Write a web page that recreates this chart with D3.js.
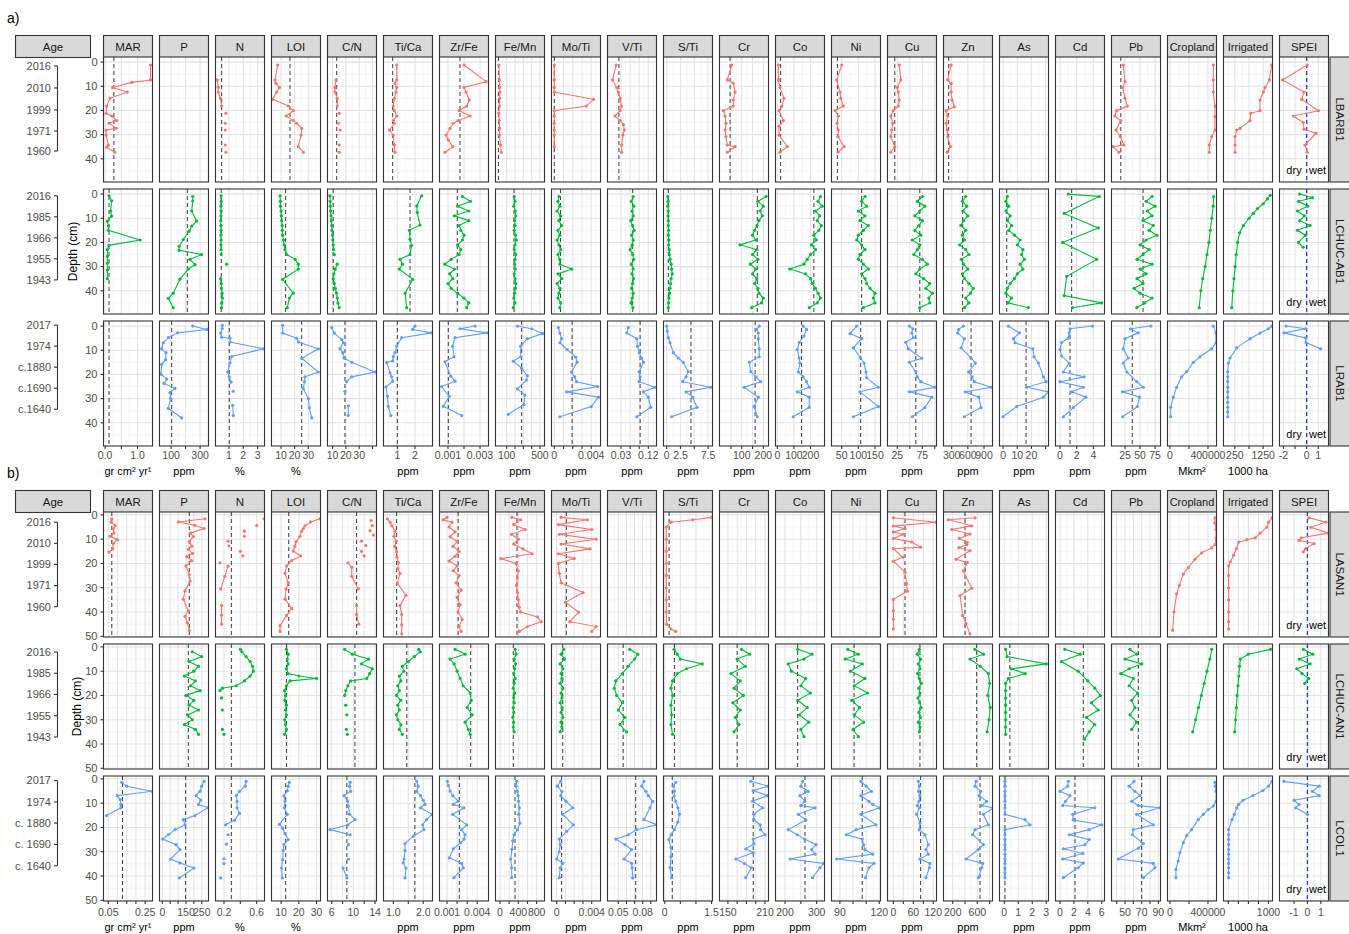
<!DOCTYPE html>
<html>
<head>
<meta charset="utf-8">
<script src="https://cdn.jsdelivr.net/npm/d3@7"></script>
<style>
  body { margin: 0; background: #fff; }
  text { font-family: "Liberation Sans", Arial, sans-serif; }
</style>
</head>
<body>
<script>
// ---- columns shared by both blocks ----
var colNames = ["MAR","P","N","LOI","C/N","Ti/Ca","Zr/Fe","Fe/Mn","Mo/Ti","V/Ti","S/Ti","Cr","Co","Ni","Cu","Zn","As","Cd","Pb","Cropland","Irrigated","SPEI"];
var units = ["gr cm² yr¹","ppm","%","%","","ppm","ppm","ppm","ppm","ppm","ppm","ppm","ppm","ppm","ppm","ppm","ppm","ppm","ppm","Mkm²","1000 ha",""];
var rowColors = ["#F8766D","#00BA38","#619CFF"];

// ---- block a) x scales ----
var domainA = [[-0.05,1.46],[20,358],[0.06,3.48],[3,39],[6.2,43],[0.22,2.99],[0.00047,0.00353],[-35,555],[-0.0003,0.005],[-0.0146,0.147],[-0.58,8.3],[-3,224],[-11,284],[19.4,166.5],[5.4,103.4],[148,1058],[-2.5,32],[-0.54,5.34],[2.5,84],[-26000,490000],[-150,1580],[-2.34,1.88]];
var breaksA = [[0,0.5,1],[100,200,300],[1,2,3],[10,20,30],[10,20,30,40],[1,2],[0.001,0.002,0.003],[100,200,300,400,500],[0,0.001,0.002,0.003,0.004],[0.03,0.06,0.09,0.12],[0,2.5,5,7.5],[50,100,150,200],[0,100,200],[50,100,150],[25,50,75,100],[300,600,900],[0,10,20,30],[0,2,4],[25,50,75],[0,200000,400000],[250,750,1250],[-2,-1,0,1]];
var labelsA = [["0.0","1.0"],["100","300"],["1","2","3"],["10","20","30"],["10","20","30"],["1","2"],["0.001","0.003"],["100","500"],["0","0.004"],["0.03","0.12"],["0","2.5","7.5"],["100","200"],["0","100","200"],["50","100","150"],["25","75"],["300","600","900"],["0","10","20"],["0","2","4"],["25","50","75"],["0","400000"],["250","1250"],["-2","0","1"]];

// ---- block b) x scales ----
var domainB = [[0.024,0.29],[-18,293],[0.096,0.696],[4.6,32.2],[5.22,14.28],[0.67,2.31],[0.00025,0.00512],[-98,971],[-0.00059,0.005],[0.0367,0.097],[-0.04,1.53],[136.4,215.7],[170,324.6],[83.6,120.9],[-17.5,129.6],[50,847],[-0.34,3.16],[-0.65,6.4],[33.8,92.6],[-26000,490000],[-120,1100],[-2.08,1.57]];
var breaksB = [[0.05,0.1,0.15,0.2,0.25],[0,50,100,150,200,250],[0.2,0.4,0.6],[10,20,30],[6,8,10,12,14],[1,1.5,2],[0.001,0.002,0.003,0.004],[0,200,400,600,800],[0,0.001,0.002,0.003,0.004],[0.05,0.06,0.07,0.08,0.09],[0,0.5,1,1.5],[150,165,180,195,210],[200,250,300],[90,100,110,120],[0,30,60,90,120],[200,400,600,800],[0,1,2,3],[0,2,4,6],[40,50,60,70,80,90],[0,200000,400000],[0,250,500,750,1000],[-1,0,1]];
var labelsB = [["0.05","0.25"],["0","150","250"],["0.2","0.6"],["10","20","30"],["6","10","14"],["1.0","2.0"],["0.001","0.004"],["0","400","800"],["0","0.004"],["0.05","0.08"],["0","1.5"],["150","210"],["200","300"],["90","120"],["0","60","120"],["200","600"],["0","1","2","3"],["0","2","4","6"],["50","70","90"],["0","400000"],["1000"],["-1","0","1"]];

// ---- age axes ----
var agesA1 = ["2016","2010","1999","1971","1960"], ageDepthA1 = [1.6,10.7,19.8,28.5,36.8];
var agesA2 = ["2016","1985","1966","1955","1943"], ageDepthA2 = [0.7,9.4,18.1,26.8,35.5];
var agesA3 = ["2017","1974","c.1880","c.1690","c.1640"], ageDepthA3 = [-0.4,8.3,17,25.7,34.4];
var agesB1 = ["2016","2010","1999","1971","1960"], ageDepthB1 = [3.0,11.7,20.4,29.1,37.8];
var agesB2 = ["2016","1985","1966","1955","1943"], ageDepthB2 = [2.1,10.85,19.6,28.35,37.1];
var agesB3 = ["2017","1974","c. 1880","c. 1690","c. 1640"], ageDepthB3 = [0.7,9.5,18.2,27,35.8];

// ---- core data: [depth cm, value], null = gap ----
var lbarb1 = {
  "MAR": [[1.2,1.40],[7.4,1.40],[8.4,0.82],[10.5,0.23],[12.4,0.68],[15,0.15],[18.2,0.05],[21.2,0.03],[22.3,0.2],[24.2,0.36],[25.3,0.12],[27.4,0.34],[28.1,0.03],[30.2,0.03],[34.3,0.1],[35.2,0.05],[37.3,0.3]],
  "N": [[7.4,0.18],[10.5,0.25],[12.4,0.25],[15,0.41],[18.2,0.49],null,[21.2,0.79],null,[25.3,0.74],null,[28.1,0.74],null,[34.3,0.74],null,[37.3,0.79]],
  "LOI": [[1.2,7.6],[7.4,5.6],[8.8,6.3],[10.5,8.8],[12.4,6.8],[15.4,3.9],[18.2,15.4],[20.1,19.0],[22.3,13.7],[24.2,19],[25.3,21.5],[27.4,25.2],[30.2,24.7],[35,22.7],[37.3,26.4]],
  "C/N": [[7.4,12.6],[10.5,11.8],[12.4,11.8],[15,13.5],[18.2,13.5],null,[21.2,15],null,[25.3,14.3],null,[28.1,15.6],null,[34.3,15],null,[37.3,15]],
  "Ti/Ca": [[1.2,0.97],[7.4,0.97],[8.8,0.87],[10.5,0.97],[12.4,0.92],[15,0.83],[18.2,0.77],[20.1,0.83],[22.3,0.97],[24.2,0.77],[25.3,0.83],[28.1,0.55],[30.2,0.77],[34.3,0.83],[37.3,0.87]],
  "Zr/Fe": [[1.2,0.0020],[8.1,0.00338],[10.5,0.0020],[12.4,0.00213],[15.7,0.00233],[18.2,0.00217],[20.1,0.0017],[22.3,0.00238],[24.2,0.00164],[25.3,0.00133],[27.4,0.00113],[30.2,0.00088],[32.2,0.00102],[35,0.0013],[37.3,0.00081]],
  "Fe/Mn": [[1.2,6],[7.4,12],[10.5,15],[12.4,18],[15,15],[18.2,12],[21.2,5],[24.2,10],[27.4,15],[30.2,12],[34.3,27],[37.3,35]],
  "Mo/Ti": [[1.2,0],[7.4,0],[10.5,0],[12.4,0],[15.4,0.00425],[18.2,0.00347],[20.1,0],[22.3,0],[25.3,0],[28.1,0],[30.2,0],[35,0]],
  "V/Ti": [[1.2,0.014],[7.4,0.002],[10.5,0.016],[12.4,0.021],[15,0.027],[18.2,0.032],[20.1,0.027],[22.3,0.010],[24.2,0.027],[25.9,0.038],[28.1,0.041],[30.2,0.036],[34.3,0.032],[37.3,0.032]],
  "Cr": [[1.2,54],[7.4,33],[8.8,61],[12.4,69],[15.7,61],[18.2,61],[20.1,15],[22.3,23],[25.3,27],[28.1,23],[30.8,27],[34.3,33],[35,69],[37.3,33]],
  "Co": [[1.2,6],[7.4,6],[10.5,16],[15,40],[18.2,28],[20.1,10],[24.2,36],[26.5,10],[30.2,10],[35,60],[37.3,16]],
  "Ni": [[1.2,50],[7.4,35],[12.4,45],[15,47],[18.2,55],[20.1,30],[22.3,40],[25.3,36],[28.1,40],[30.8,39],[35,57],[37.3,39]],
  "Cu": [[1.2,29],[7.4,32],[10.5,25],[12.4,27],[15.7,29],[18.2,27],[20.1,17],[22.3,12],[25.3,16],[28.1,14],[30.8,12],[35,20],[37.3,12]],
  "Zn": [[1.2,289],[7.4,226],[8.8,289],[12.4,289],[15.7,307],[18.5,350],[20.1,196],[22.3,226],[25.3,196],[28.1,215],[30.8,226],[35,276],[37.3,215]],
  "Pb": [[1.2,22],[8.1,25],[10.5,21],[15,25],[18.2,29],[20.1,11],[22.3,8],[24.2,18],[28.1,10],[30.8,17],[34.3,23],[35,5],[37.3,15]],
  "Cropland": [[1.2,456000],[7.4,456000],[12.4,456000],[18.2,474000],[22.6,474000],[28.1,474000],[30.8,439000],[34.3,414000],[37.3,414000]],
  "Irrigated": [[1.2,1553],[7.4,1469],[10.5,1317],[12.4,1257],[15.7,1140],[20.1,1140],[21.2,812],[24.2,787],[27.4,434],[28.1,318],[30.8,258],[34.3,258],[37.3,258]],
  "SPEI": [[1.2,0.05],[7.4,-2.07],[12.4,-0.23],[15.4,-0.43],[20.1,1.0],[22.3,-1.15],[25,-0.29],[27.8,-0.23],[29.4,0.8],[34.3,-0.15],[37.3,0.05]]
};
var lbarb1Ref = {"MAR":0.27,"N":0.49,"LOI":16.6,"C/N":13.1,"Ti/Ca":0.74,"Zr/Fe":0.00175,"Fe/Mn":0,"Mo/Ti":0,"V/Ti":0.023,"Cr":46,"Co":20,"Ni":37,"Cu":20,"Zn":244,"Pb":18,"SPEI":0};

var lchucab1 = {
  "MAR": [[0.7,0.12],[2.8,0.2],[7,0.17],[9.1,0.2],[11.2,0.07],[13.2,0.1],[15,0.1],[19,1.08],[21.2,0.12],[23,0.07],[25.8,0.07],[28.6,0.07],[31.4,0.07],[35,0.07]],
  "P": [[1,249],[2.9,249],[7,242],[11.2,276],[13.2,242],[15.3,226],[18.8,184],[21.6,156],[23.3,156],[25,311],[27,230],[29.2,265],[31,219],[35.2,161],[41,115],[43.1,81],[47,115]],
  "N": [[0.7,0.45],[3,0.46],[5,0.44],[7,0.45],[9,0.44],[11,0.43],[13,0.44],[15,0.45],[17,0.44],[19,0.45],[21,0.44],[23,0.45],null,[25,0.46],null,[29,0.84],null,[35,0.42],[37,0.45],[39,0.48],[41,0.52],[43,0.55],[45,0.5],[47,0.48]],
  "LOI": [[0.7,9.3],[3,9.5],[5,9.6],[7,10],[9,10.2],[11,10.5],[13,10.8],[15,11],[17,11.2],[19,11.8],[21,12.3],[23,12.9],[25,14.2],[27,20.3],[29,22.7],[31,22.7],[35.3,11.2],[41,19],[43,16.1],[47,14.6]],
  "C/N": [[0.7,8],[3,8.2],[5,8.3],[7,8.5],[9,8.8],[11,9],[13,9.3],[15,9.5],[17,10],[19,10.2],[21,10.5],[23,10.8],null,[25,11.3],null,[29,13.5],[31,12],[33,11],[35,10.5],[37,11.3],[39,12],[41,13],[43,13.5],[45,14],[47,15]],
  "Ti/Ca": [[0.7,2.38],[4.9,2.1],[7.6,2.13],[12.8,2.28],[15,1.68],[18.7,1.72],[21.2,1.81],[25,1.72],[27,1.15],[29,1.3],[31,1.11],[35.3,1.87],[41,1.44],[47,1.53]],
  "Zr/Fe": [[1,0.0019],[3,0.0024],[5,0.0016],[7,0.0023],[9,0.0014],[11,0.0023],[13,0.0017],[15,0.0018],[17,0.0020],[19,0.0019],[21,0.0016],[23,0.0018],[25,0.0017],[27,0.0012],[29,0.0008],[31,0.0014],[33,0.0011],[35,0.0013],[37,0.0010],[39,0.0012],[41,0.0016],[43,0.0020],[45,0.0023],[47,0.00217]],
  "Fe/Mn": [[1,190],[3,200],[5,185],[7,205],[9,210],[11,195],[13,200],[15,190],[17,205],[19,215],[21,200],[23,190],[25,210],[27,200],[29,195],[31,205],[33,190],[35,200],[37,210],[39,205],[41,195],[43,185],[45,200],[47,179]],
  "Mo/Ti": [[1,0.0005],[3,0.0004],[5,0.0006],[7,0.0003],[9,0.0007],[11,0.0005],[13,0.0008],[15,0.0004],[17,0.0006],[19,0.0003],[21,0.0005],[23,0.0007],[25,0.0004],[27,0.0006],[29,0.0006],[31,0.0019],[33,0.0004],[35,0.0008],[37,0.0003],[39,0.0006],[41,0.0005],[43,0.0004],[45,0.0007],[47,0.0006]],
  "V/Ti": [[1,0.07],[3,0.064],[5,0.072],[7,0.066],[9,0.07],[11,0.062],[13,0.068],[15,0.073],[17,0.065],[19,0.07],[21,0.067],[23,0.06],[25,0.068],[27,0.072],[29,0.064],[31,0.07],[33,0.066],[35,0.071],[37,0.068],[39,0.065],[41,0.07],[43,0.067],[45,0.063],[47,0.069]],
  "S/Ti": [[1,0.2],[3,0.25],[5,0.2],[7,0.3],[9,0.25],[11,0.3],[13,0.3],[15,0.35],[17,0.3],[19,0.4],[21,0.35],[23,0.45],[25,0.5],[27,0.6],[29,0.8],[31,0.9],[33,1.0],[35,0.8],[37,0.7],[39,0.6],[41,0.5],[43,0.4],[45,0.35],[47,0.3]],
  "Cr": [[1,213],[3,175],[5,200],[7,185],[9,195],[11,180],[13,170],[15,160],[17,150],[19,165],[21,92],[23,170],[25,150],[27,175],[29,140],[31,165],[33,150],[35,170],[37,160],[39,175],[41,180],[43,200],[45,192],[47,146]],
  "Co": [[1,260],[3,245],[5,270],[7,230],[9,255],[11,240],[13,265],[15,250],[17,220],[19,235],[21,205],[23,230],[25,200],[27,180],[29,160],[31,75],[33,170],[35,200],[37,210],[39,230],[41,245],[43,260],[45,240],[47,192]],
  "Ni": [[1,120],[3,110],[5,125],[7,100],[9,120],[11,105],[13,130],[15,115],[17,100],[19,95],[21,110],[23,120],[25,105],[27,100],[29,115],[31,130],[33,110],[35,120],[37,125],[39,135],[41,150],[43,145],[45,150],[47,115]],
  "Cu": [[1,75],[3,65],[5,80],[7,70],[9,60],[11,75],[13,68],[15,60],[17,72],[19,55],[21,70],[23,65],[25,58],[27,75],[29,85],[31,70],[33,62],[35,78],[37,90],[39,82],[41,95],[43,88],[45,90],[47,70]],
  "Zn": [[1,560],[3,500],[5,580],[7,510],[9,600],[11,520],[13,470],[15,560],[17,500],[19,540],[21,450],[23,560],[25,620],[27,480],[29,520],[31,600],[33,500],[35,540],[37,620],[39,700],[41,650],[43,560],[45,620],[47,536]],
  "As": [[1,3],[3,2],[5,4],[7,2],[9,5],[11,3],[13,6],[15,4],[17,8],[19,12],[21,10],[23,14],[25,13],[27,15],[29,12],[31,14],[33,10],[35,8],[37,5],[39,3],[41,2],[43,6],[45,3.5],[47,17.8]],
  "Cd": [[0,1.0],[1,4.7],[8,0.5],[14,4.6],[20,0.3],[27,4.4],[34,0.8],[42,0.5],[45,5],[47,1.5]],
  "Pb": [[1,70],[3,60],[5,75],[7,62],[9,70],[11,55],[13,72],[15,65],[17,78],[19,60],[21,50],[23,65],[25,55],[27,45],[29,70],[31,50],[33,60],[35,45],[37,55],[39,40],[41,50],[43,70],[45,58],[47,44.5]],
  "Cropland": [[1,460000],[5,455000],[10,440000],[15,425000],[20,410000],[25,390000],[30,370000],[35,345000],[40,325000],[47,308000]],
  "Irrigated": [[0.5,1500],[2,1400],[4,1250],[6,1050],[8,900],[10,750],[13,550],[16,420],[20,350],[25,300],[30,260],[35,220],[40,180],[47,141]],
  "SPEI": [[0,-0.6],[1.5,0.5],[3,-0.7],[5,0.1],[7,-0.8],[9,-0.2],[11,-0.6],[13,0.3],[15,-0.8],[17,-0.1],[20,-0.7],[22,-0.3]]
};
var lchucab1Ref = {"MAR":0.12,"P":212,"N":0.46,"LOI":13.4,"C/N":10.5,"Ti/Ca":1.72,"Zr/Fe":0.00158,"Fe/Mn":188,"Mo/Ti":0.00068,"V/Ti":0.0686,"S/Ti":0.3,"Cr":172,"Co":220,"Ni":110,"Cu":70,"Zn":504,"As":2.6,"Cd":1.4,"Pb":55,"SPEI":0};

var lrab1 = {
  "P": [[0,249],[1.4,345],[2.8,145],[4.8,81],[6.9,46],[9.4,35],[11,65],[13.9,62],[15.8,35],[19.9,30],[21.9,70],[23.7,51],[25.8,127],[27.5,92],[30,97],[34,81],[38,173]],
  "N": [[-0.3,0.53],[1,0.53],[2.9,0.42],[4.6,0.49],[5,1.07],[6.6,1.07],[9.4,3.4],[12.6,1.19],[15.2,1.07],[19,0.91],[21,1.02],[23.2,1.14],null,[27,1.3],null,[32.8,1.26],[37,1.3]],
  "LOI": [[-0.3,11.2],[2.9,11.2],[5,21.5],[6.6,22.7],[9.4,37.4],[13.3,25.2],[19,37.4],[21,27.6],[23,27.2],[26,26.4],[30,30.1],[33.8,30.8],[38,32.6]],
  "C/N": [[0.6,9.3],[2.9,11.3],[5.6,16.8],[6.9,18],[9.4,15.6],[11,17.6],[13.2,18.6],[15,24.4],[19,41.9],[21,24.4],[23,20.6],null,[27,19.3],null,[33,21.8],[37,21.8]],
  "Ti/Ca": [[0,2.0],[1.4,1.87],[2.8,2.94],[4.8,1.25],[8.3,0.97],[11,0.87],[12.6,0.77],[14.4,0.74],[15.1,0.4],[19.3,0.59],[21,0.68],[22.8,0.74],[25.2,0.36],[29,0.44],[33.2,0.49],[37,0.63]],
  "Zr/Fe": [[0,0.00269],[1.1,0.00175],[2.8,0.00342],[4.8,0.00144],[8.3,0.00129],[12.7,0.00138],[14.8,0.00081],[20.7,0.00117],[22.8,0.00144],[25,0.0006],[29,0.00108],[33.2,0.00071],[37,0.00186]],
  "Fe/Mn": [[0,228],[1.1,401],[3.1,533],[5.2,348],[8.3,268],[12.7,268],[14.5,179],[17.5,280],[20.5,348],[22.3,337],[26,228],[28.5,320],[32.4,308],[36.5,119]],
  "Mo/Ti": [[0.6,0.00043],[2.9,0.00061],[5.2,0.00079],[6.9,0.00061],[9.7,0.00139],[12.8,0.00232],[15,0.00246],[19,0.00186],[21,0.00221],[23,0.0024],[25,0.0047],[27.2,0.00133],[29.4,0.00478],[33.3,0.004],[37.5,0.00061]],
  "V/Ti": [[0.6,0.054],[2.9,0.049],[5.2,0.082],[8.3,0.084],[11,0.09],[13.2,0.098],[15,0.104],[18.9,0.09],[21,0.093],[23,0.09],[25.3,0.142],[27.2,0.104],[29.4,0.12],[33.6,0.128],[37.5,0.082]],
  "S/Ti": [[0,0],[2,0.1],[4.8,0.3],[6.9,0.6],[11,1.2],[13.2,2.1],[15,3.0],[18.9,3.9],[21,3.5],[23,2.9],[25.3,7.97],[27.2,3.5],[29.4,4.7],[33.6,5.5],[37.5,0.9]],
  "Cr": [[0,181],[1.4,169],[2.9,177],[5.2,177],[9.4,181],[12.7,181],[15,135],[18.9,142],[21,166],[23,188],[25.3,111],[29.4,177],[33.3,157],[37.5,172]],
  "Co": [[0,156],[1.4,176],[4.1,160],[6.8,132],[9.7,120],[13.2,132],[15.3,136],[19,126],[21,156],[23,176],[25.3,192],[27.2,120],[29.4,192],[33.6,192],[37.5,96]],
  "Ni": [[0,95],[3.1,75],[5.2,110],[9,85],[13.2,107],[15.3,117],[19,123],[21.4,125],[25.3,160],[27.2,105],[33.3,160],[37.5,85]],
  "Cu": [[0,49],[1.1,56],[2.9,54],[4.8,57],[6.7,42],[9.4,47],[13.3,74],[15,49],[19,62],[21,65],[23,72],[25.3,100],[27.2,49],[29.4,94],[33.7,80],[37.5,55]],
  "Zn": [[0,517],[1.4,430],[2.9,411],[5.2,536],[9,474],[13.2,660],[15.3,740],[19,615],[21,678],[23,720],[25.3,1031],[27.2,554],[29.4,801],[33.7,845],[37.5,536]],
  "As": [[0,3.7],[2.8,11.5],[5.2,7.3],[6.9,8.5],[9.4,20.9],[12.7,21.8],[15.3,24.9],[21,28.4],[23,30.3],[25.3,16.7],[27.2,31.9],[29.4,28.4],[33.3,9.6],[37.5,0]],
  "Cd": [[0,3.9],[1.1,1.2],[2.9,1.1],[5,1.0],[6.8,0.2],[9.7,0],[12.4,0.2],[15.3,1.1],[19,0.4],[21,2.9],[23,0],[25.3,2.8],[27.2,1.4],[29.4,3.1],[33.7,1.6],[37.5,0.4]],
  "Pb": [[0,68],[1.1,34],[2.8,47],[5.2,25],[9.4,22],[13.2,30.5],[15.3,22],[19,28],[23,44.5],[25.3,55.5],[27.2,21],[29.4,49],[33.3,45.5],[37.5,21]],
  "Cropland": [[0,456000],[2.8,484000],[6.9,484000],[9.4,439000],[12.7,316000],[15,245000],[18.8,176000],[21,123000],[25.3,70000],[29.4,35000],[33.6,7000],[37.5,7000]],
  "Irrigated": [[0,1553],[1.1,1434],[2.9,1140],[5.2,787],[9,318],[13.2,81],[15.3,22],[18.9,0],[21,0],[23,0],[25.3,0],[27.2,0],[29.4,0],[31.5,0],[33.6,0],[35.5,0],[37.5,0]],
  "SPEI": [[0,-1.78],[1.1,-0.1],[2.8,-1.96],[4.9,-0.1],[6.8,-0.05],[9.4,1.2]]
};
var lrab1Ref = {"MAR":0.12,"P":104,"N":1.02,"LOI":25.2,"C/N":19.3,"Ti/Ca":1.0,"Zr/Fe":0.00102,"Fe/Mn":280,"Mo/Ti":0.00193,"V/Ti":0.093,"S/Ti":4.4,"Cr":162,"Co":146,"Ni":107,"Cu":62,"Zn":660,"As":16.2,"Cd":1.2,"Pb":37,"SPEI":0};

var lasan1 = {
  "MAR": [[1.6,0.069],[3,0.065],[4.4,0.087],[5.7,0.077],[7.5,0.081],[8.8,0.059],[10.2,0.099],[11.8,0.077],[13.9,0.074],[15.3,0.054]],
  "P": [[1.6,271],[2.9,102],[4.3,207],[5.6,265],[7.5,176],[8.9,197],[11,171],[12.9,187],[14.2,165],[15.9,193],[17.2,155],[18.9,187],[21,150],[24.6,171],[27.3,176],[31.3,144],[34.7,133],[39.5,165],[41.8,144],[44.5,160],[47.6,171]],
  "N": [[1.6,0.69],null,[4.4,0.6],null,[6.7,0.45],null,[8.8,0.45],null,[10.8,0.25],null,[12.8,0.26],null,[15,0.4],null,[16.9,0.43],null,[19.7,0.15],null,[21.1,0.25],[25.3,0.21],[30.5,0.16],null,[37.3,0.17],[41.3,0.17],[45,0.17]],
  "LOI": [[1.6,31.9],[2.9,26.6],[4.5,23.4],[5.6,22.5],[6.7,21.6],[8.9,20.6],[11,18.4],[12.9,17.8],[14.9,16.9],[16.9,21],[18.8,16],[21,13.1],[24.1,12.2],[27.9,14],[30.6,12.8],[34.7,12.2],[38.6,16],[41.5,13],[45.6,9.4],[48,9.4]],
  "C/N": [[2.3,13.3],null,[4.4,13.5],null,[6.5,13.1],null,[8.3,13.7],null,[10.8,11.5],null,[12.6,12.3],null,[15,11.5],null,[16.9,12],null,[19.7,9.0],[21.6,9.7],[25.3,9.7],[30.5,10.9],null,[37.3,10.6],[41,10.6],[45,11]],
  "Ti/Ca": [[1.6,0.8],[3,0.89],[4.5,0.95],[6.7,1.06],[8.8,1.02],[10.8,1.09],[13,1.05],[15.2,1.11],[17.4,1.12],[19.6,1.17],[22,1.15],[24.2,1.22],[28.1,1.13],[33.1,1.42],[37.4,1.22],[41,1.28],[45.3,1.28],[49,1.28]],
  "Zr/Fe": [[1,0.0010],[2,0.0006],[3,0.0015],[5,0.0012],[7,0.0018],[9,0.0013],[11,0.0020],[13,0.0016],[15,0.0022],[17,0.0018],[19,0.0012],[21,0.0020],[23,0.0016],[25,0.0022],[28,0.0019],[31,0.0024],[34,0.0020],[37,0.0023],[40,0.0021],[43,0.0025],[46,0.0022],[48,0.0024]],
  "Fe/Mn": [[1,260],[2,450],[4,300],[6,550],[8,250],[10,400],[12,300],[14,500],[16,700],[18,20],[20,350],[23,400],[26,380],[29,360],[32,380],[35,400],[38,420],[40,450],[42,820],[44,900],[46,600],[48,420]],
  "Mo/Ti": [[1,0.0005],[2,0.0035],[4,0.0002],[6,0.0040],[8,0.0003],[10,0.0045],[12,0.0005],[14,0.0038],[16,0.0002],[18,0.0020],[20,0.0002],[24,0.0003],[28,0.0005],[32,0.0030],[36,0.0010],[40,0.0025],[44,0.0015],[46,0.0045],[48,0.0040]],
  "S/Ti": [[1,1.5],[2,0.9],[3,0.2],[5,0.05],[10,0.05],[15,0.05],[20,0.05],[25,0.05],[30,0.05],[35,0.05],[40,0.05],[45,0.06],[47,0.2],[48,0.35]],
  "Cu": [[1.2,0],[3.0,128],[4.6,0],[5.7,35],[7,0],[8,28],[9.7,0],[11.1,55],[13.3,82],[13.9,0],[17.4,28],[19.1,0],[23.6,35],[28.3,40],[31.4,42],[34.8,0],[39.5,0],[43,0],[47,0]],
  "Zn": [[1.2,563],[2,128],[4.5,509],[6,184],[7.9,481],[9.7,307],[11.3,437],[12.2,428],[13.5,300],[14.7,481],[18.3,254],[19.6,437],[23,372],[30.2,509],[33.2,319],[41.4,363],[44.8,416],[49,481]],
  "Cropland": [[1.2,474000],[3.3,474000],[6,485000],[9.4,485000],[12.2,474000],[13.6,439000],[15.6,334000],[18.3,263000],[21.7,193000],[24.4,140000],[29.1,98000],[32.5,70000],[40,42000],[47.5,28000]],
  "Irrigated": [[1.2,1090],[3,1000],[5,960],[7.5,794],[9.4,670],[10.2,464],[11.2,256],[13.9,199],[16.6,132],[19.3,50],[21,8],[25,8],[30,8],[35,8],[40,8],[44,8],[47,8]],
  "SPEI": [[1.2,0.12],[3,1.37],[5.1,0.25],[7.5,1.55],[9.4,-0.45],[10.5,-0.63],[11.8,0.5],[13.9,-0.13],[15.2,-0.3]]
};
var lasan1Ref = {"MAR":0.069,"P":171,"N":0.29,"LOI":14.3,"C/N":10.6,"Ti/Ca":1.11,"Zr/Fe":0.0021,"Fe/Mn":371,"Mo/Ti":0.0011,"S/Ti":0.14,"Cu":35,"Zn":400,"SPEI":0};

var lchucan1 = {
  "P": [[2,190],[4,250],[6,170],[8,230],[10,200],[12,140],[14,210],[16,180],[18,240],[20,150],[22,200],[24,170],[26,230],[28,160],[30,190],[32,140],[34,210],[36,230]],
  "N": [[1,0.40],[2,0.42],[4,0.47],[6,0.52],[8,0.55],[10,0.56],[12,0.52],[14,0.45],[16,0.35],[17,0.18],[18,0.15],null,[21,0.17],null,[26,0.18],null,[34,0.18],null,[36,0.2]],
  "LOI": [[1,13],[3,14],[5,13.5],[7,14],[9,13],[11,14],[12,20],[13,30],[14,15],[16,13],[18,12],[20,12.5],[22,12],[24,13],[26,12.5],[28,13],[30,12],[32,12.5],[34,13],[36,12]],
  "C/N": [[1,8.4],[3,9.8],[5,12.8],[7,11.5],[9,13.5],[11,13.0],[13,12.5],[14,9.5],[16,9.0],[18,8.6],[20,8.4],null,[24,8.6],null,[28,8.8],null,[34,8.7],null,[36,8.9]],
  "Ti/Ca": [[1,1.85],[2,1.9],[4,1.7],[6,1.5],[8,1.3],[10,1.35],[12,1.2],[14,1.25],[16,1.15],[18,1.2],[20,1.1],[22,1.25],[24,1.15],[26,1.2],[28,1.1],[30,1.15],[32,1.25],[34,1.2],[36,1.3]],
  "Zr/Fe": [[1,0.0018],[3,0.0028],[5,0.0013],[7,0.0017],[10,0.0020],[13,0.0023],[16,0.0026],[19,0.0033],[22,0.0034],[25,0.0030],[28,0.0035],[31,0.0028],[34,0.0031],[36,0.0033]],
  "Fe/Mn": [[1,330],[3,350],[5,310],[7,340],[9,320],[11,300],[13,330],[15,310],[17,290],[19,320],[21,300],[23,310],[25,290],[27,300],[29,280],[31,300],[33,290],[35,310]],
  "Mo/Ti": [[1,0.0008],[3,0.0005],[5,0.0009],[7,0.0004],[9,0.0007],[11,0.0005],[13,0.0006],[15,0.0004],[17,0.0007],[19,0.0005],[21,0.0006],[23,0.0004],[25,0.0006],[27,0.0005],[29,0.0007],[31,0.0005],[33,0.0006],[35,0.0004]],
  "V/Ti": [[1,0.064],[3,0.074],[5,0.07],[8,0.062],[11,0.055],[14,0.047],[17,0.045],[20,0.048],[23,0.055],[26,0.050],[29,0.058],[32,0.052],[35,0.06]],
  "S/Ti": [[1,0.3],[3,0.4],[5,0.5],[7,1.2],[9,0.7],[11,0.4],[14,0.25],[17,0.2],[20,0.25],[24,0.2],[28,0.22],[32,0.2],[36,0.25]],
  "Cr": [[1,172],[3,185],[5,165],[8,178],[11,155],[14,170],[17,160],[20,175],[23,158],[26,170],[29,162],[32,168],[35,160]],
  "Co": [[1,240],[3,285],[5,260],[7,210],[10,220],[13,265],[16,250],[19,280],[22,240],[25,270],[28,245],[31,275],[34,250],[37,260]],
  "Ni": [[1,96],[3,104],[5,94],[7,107],[10,98],[13,109],[16,101],[19,111],[22,99],[25,105],[28,101],[31,108],[34,100],[37,104]],
  "Cu": [[1,78],[3,72],[5,82],[7,75],[9,80],[11,73],[13,78],[15,84],[17,76],[19,80],[21,74],[23,79],[25,83],[27,77],[29,81],[31,75],[33,80],[35,78]],
  "Zn": [[1,560],[3,700],[5,480],[8,650],[11,780],[15,800],[20,770],[25,810],[30,790],[35,760]],
  "As": [[1,0.1],[4,0.2],[7,3.0],[9,0.5],[11,1.5],[13,0.3],[15,0.1],[18,0.1],[21,0.1],[24,0.1],[27,0.1],[30,0.1],[33,0.1],[36,0.1]],
  "Cd": [[1,0.7],[3,2.9],[6,0.2],[10,2.6],[14,4.0],[17,5.0],[20,5.8],[23,4.5],[26,5.5],[29,3.8],[32,5.0],[35,4.2],[38,3.5]],
  "Pb": [[1,56],[3,64],[5,50],[7,70],[9,55],[11,45],[13,60],[16,55],[19,65],[22,58],[25,62],[28,56],[31,64],[34,58]],
  "Cropland": [[1,440000],[5,420000],[10,390000],[15,360000],[20,330000],[25,300000],[30,270000],[35,240000]],
  "Irrigated": [[1,1050],[3,500],[5,300],[8,280],[12,260],[16,240],[20,220],[25,200],[30,180],[35,160]],
  "SPEI": [[1,-0.3],[3,0.4],[5,-0.6],[7,0.2],[9,-0.8],[11,-0.4],[13,0.1],[15,-0.2]]
};
var lchucan1Ref = {"P":165,"N":0.29,"LOI":13.1,"C/N":10.3,"Ti/Ca":1.45,"Zr/Fe":0.00335,"Fe/Mn":290,"Mo/Ti":0.00069,"V/Ti":0.056,"S/Ti":0.31,"Cr":165,"Co":240,"Ni":100.8,"Cu":80,"Zn":590,"As":0.4,"Cd":3.35,"Pb":66,"SPEI":0};

var lcol1 = {
  "MAR": [[1.4,0.123],[3,0.150],[5.1,0.288],[6.9,0.099],[8.5,0.114],[10.5,0.118],[11.9,0.118],[15.1,0.041]],
  "P": [[1,265],[3,250],[5.1,239],[6.9,214],[8.7,244],[10.5,229],[11.9,290],[15.1,207],[16.8,133],[18.9,144],[20.9,81],[23,38],[24.8,2],[27.1,87],[29.1,112],[33,53],[34.6,112],[36.7,201],[40.8,108]],
  "N": [[1,0.47],[3,0.46],[5.1,0.39],[6.9,0.35],[9.2,0.36],[11.9,0.36],[14.2,0.39],[17,0.33],[18.9,0.22],null,[23,0.25],null,[26.9,0.23],null,[32.9,0.2],null,[34.9,0.2],null,[40.8,0.16]],
  "LOI": [[1.4,14.6],[3,14],[4.9,13.5],[6.9,11.6],[9.2,12.2],[11.9,11.8],[14.6,13.5],[18.7,9],[20.3,10.9],[22.6,12.2],[25,14],[27.1,11.6],[29.5,11.2],[33.3,10.9],[36.7,10.3],[40.8,10.7]],
  "C/N": [[1.4,9.4],[3,9.3],[5.1,9.5],[6.9,8.3],[9.2,8.9],[11.2,9.1],[14.6,9.3],[16.8,10.3],[18.9,9],[20.9,5.7],[23,9.4],null,[27.1,9.1],null,[33,9.1],null,[36.7,8.1],[40.8,8.8]],
  "Ti/Ca": [[1,1.78],[3,1.83],[5.1,1.78],[6.9,1.91],[8.8,2.0],[10.5,2.06],[11.9,1.91],[14.6,2.3],[16.8,2.11],[18.9,1.98],[20.9,2.02],[23.6,1.67],[26.6,1.39],[29.5,1.39],[33,1.36],[34.6,1.33],[36.7,1.42],[40.8,1.39]],
  "Zr/Fe": [[1,0.00103],[2.8,0.00113],[5,0.0013],[6.9,0.00156],[9.2,0.00212],[10.5,0.00162],[11.9,0.00268],[14.6,0.00156],[18.9,0.00295],[20.9,0.00246],[23,0.00278],[24.8,0.0027],[26.3,0.00236],[28.8,0.00162],[32.5,0.00123],[34.8,0.00246],[36.6,0.00262],[40.7,0.00169]],
  "Fe/Mn": [[1,365],[3,350],[5.1,380],[6.9,395],[9.2,405],[11.9,422],[14.6,410],[18.2,437],[20.9,380],[23,306],[25.5,277],[29,260],[33,234],[36.6,255],[40.7,255]],
  "Mo/Ti": [[1,0.00046],[3,0.00007],[5.1,0.0006],[6.9,0.00046],[9.2,0.00106],[11.9,0.00183],[14.6,0.00069],[18.9,0.0019],[21.6,0.00114],[24.8,0.0003],[27.1,0.0004],[30,0.0003],[33,0],[34.8,0.00069],[36.6,0.0004],[40.7,0.0003]],
  "V/Ti": [[1,0.0816],[3,0.0788],[5.1,0.084],[6.9,0.0869],[9.2,0.0923],[11.9,0.089],[16.8,0.0816],[18.9,0.0972],[20.9,0.0726],[23,0.0623],[24.8,0.047],[27.1,0.0582],[29.1,0.0665],[33,0.057],[34.8,0.0665],[36.6,0.067],[40.8,0.0677]],
  "S/Ti": [[1.4,0.35],[3,0.28],[5.1,0.31],[7,0.3],[9.2,0.35],[11.9,0.42],[14.6,0.47],[17.8,0.42],[20.9,0.31],[23,0.2],[25,0.13],[28.3,0.2],[32,0.2],[36.6,0.17],[40.7,0.22]],
  "Cr": [[1,187],[3,215],[4.8,191],[6.9,214],[9.2,190],[11.9,206],[14.6,192],[16.8,192],[18.9,202],[20.9,203],[23,210],[24.8,191],[26.8,192],[28.8,179],[30.4,191],[33,163],[34.9,177],[36.6,188],[40.7,179]],
  "Co": [[1,256],[3,250],[5.1,273],[6.9,247],[9.2,263],[11,250],[11.9,295],[14.6,242],[16.9,266],[20.9,210],[23,239],[24.8,262],[27.1,298],[29.1,284],[31,295],[33,216],[34.8,322],[36.6,310],[40.7,287]],
  "Ni": [[1,106],[3,110],[5.1,114],[6.9,106],[9.2,112],[10.5,115],[11.9,120],[14.6,106],[18.9,117.5],[20.9,102.5],[23,95],[24.8,107],[27.1,108],[29.1,109],[31,115],[33,87.5],[34.8,116],[36.6,112],[40.7,109.5]],
  "Cu": [[1,75],[3,78],[5.1,76],[6.9,80],[9.2,77],[11,72],[11.9,79],[14.6,70],[18.2,80],[20.9,78],[23,95],[27.1,105],[29.1,98],[31,105],[33,80],[34.8,110],[36.6,108],[40.7,98]],
  "Zn": [[1,579],[3,563],[5.1,655],[6.9,630],[9.2,753],[11,672],[11.9,860],[14.6,698],[18.9,779],[20.9,563],[23,525],[27.1,698],[29.1,616],[33,416],[34.8,688],[36.6,672],[40.7,616]],
  "As": [[1,0.05],[3,0.05],[5.1,0.05],[6.9,0.05],[9.2,0.05],[11.9,0.05],[14.6,0.05],[16.8,1.48],[18.9,1.84],[20.9,0.05],[23,0.05],[25,0.05],[27.1,0.05],[29.1,0.05],[31,0.05],[33,0.05],[34.8,0.05],[36.6,0.05],[38.7,0.05],[40.7,0.05]],
  "Cd": [[1,1.2],[3,1.1],[5.1,0],[6.9,1.44],[9.2,0.8],[11,0.39],[11.9,5.0],[14.6,1.83],[16.9,1.9],[18.9,6.0],[20.9,4.2],[23,1.34],[25,4.2],[27.1,3.6],[28.8,0.48],[30.7,3.3],[33,0.39],[34.6,3.35],[36.6,2.6],[40.7,0.48]],
  "Pb": [[1,60.8],[3,55],[5.1,62],[6.9,68],[9.2,58],[11,66],[11.9,92],[14.6,64],[18.9,84],[20.9,60],[23,59],[26.6,72],[28.5,66],[33,42],[34.8,84],[36.6,86],[40.7,72]],
  "Cropland": [[1.4,474000],[3,478000],[5.1,485000],[9.2,485000],[11.2,456000],[12.6,403000],[14.6,351000],[16.8,298000],[20.9,228000],[23.3,176000],[26.3,140000],[30.4,105000],[33.8,87000],[37.3,63000],[40.7,63000]],
  "Irrigated": [[1,1090],[3,1000],[4.8,861],[6.9,613],[8.8,365],[10.5,256],[11.9,210],[14.6,149],[16.8,92],[20.9,8],[23,8],[25,8],[27.1,8],[29.1,8],[31,8],[33,8],[34.8,8],[36.6,8],[38.7,8],[40.7,8]],
  "SPEI": [[1,-1.75],[3,0.87],[5.1,0.37],[6.9,0.87],[8.8,-1.0],[10.5,-0.63],[11.9,-0.87],[14.6,0]]
};
var lcol1Ref = {"MAR":0.127,"P":148,"N":0.29,"LOI":12.6,"C/N":8.8,"Ti/Ca":1.72,"Zr/Fe":0.00222,"Fe/Mn":328,"Mo/Ti":0.00057,"V/Ti":0.0714,"S/Ti":0.24,"Cr":191,"Co":263,"Ni":107,"Cu":82,"Zn":644,"As":0.05,"Cd":2.16,"Pb":70,"SPEI":0};

// ---- layout ----
var W = 1349, H = 934;
var panelW = 49, colStep = 56, firstLeft = 103.5, rowH = 125, stripH = 22;
var fontFam = "'Liberation Sans', Arial, sans-serif";

var svg = d3.select("body").append("svg")
  .attr("width", W)
  .attr("height", H)
  .style("font-family", fontFam);
svg.append("rect").attr("width", W).attr("height", H).attr("fill", "#fff");
var defs = svg.append("defs");
var clipCount = 0;

function minorOf(br, dom) {
  var out = [];
  if (br.length < 2) return out;
  var step = br[1] - br[0];
  for (var k = -1; k < br.length; k++) {
    var m = br[0] + (k + 0.5) * step;
    if (m > dom[0] && m < dom[1]) out.push(m);
  }
  return out;
}

function drawBlock(cfg) {
  var g = svg.append("g");

  g.append("text").attr("x", 7).attr("y", cfg.labelY)
    .attr("font-size", 14).attr("fill", "#000").text(cfg.label);

  // Age strip
  g.append("rect").attr("x", 15.5).attr("y", cfg.stripTop + 0.5)
    .attr("width", 75).attr("height", stripH)
    .attr("fill", "#d9d9d9").attr("stroke", "#333").attr("stroke-width", 1.1);
  g.append("text").attr("x", 53).attr("y", cfg.stripTop + stripH / 2 + 4.5)
    .attr("text-anchor", "middle").attr("font-size", 11.5).attr("fill", "#1a1a1a").text("Age");

  // column strips
  colNames.forEach(function(name, i) {
    var left = firstLeft + i * colStep;
    g.append("rect").attr("x", left).attr("y", cfg.stripTop + 0.5)
      .attr("width", panelW).attr("height", stripH)
      .attr("fill", "#d9d9d9").attr("stroke", "#333").attr("stroke-width", 1.1);
    g.append("text").attr("x", left + panelW / 2).attr("y", cfg.stripTop + stripH / 2 + 4.5)
      .attr("text-anchor", "middle").attr("font-size", name.length > 7 ? 11 : 11.5)
      .attr("fill", "#1a1a1a").text(name);
  });

  var yMajor = cfg.yTicks;
  var yMinor = minorOf(yMajor, cfg.yDomain);

  cfg.rows.forEach(function(row, r) {
    var top = cfg.rowTops[r];
    var y = d3.scaleLinear().domain(cfg.yDomain).range([top, top + rowH]);
    var color = rowColors[r];

    // right strip
    g.append("rect").attr("x", 1330).attr("y", top)
      .attr("width", 30).attr("height", rowH)
      .attr("fill", "#d9d9d9").attr("stroke", "#333").attr("stroke-width", 1.1);
    g.append("text")
      .attr("transform", "translate(1336," + (top + rowH / 2) + ") rotate(90)")
      .attr("text-anchor", "middle").attr("font-size", 11.5).attr("fill", "#1a1a1a")
      .text(row.name);

    // age axis
    var ay = row.ageDepth.map(function(d) { return y(d); });
    g.append("line").attr("x1", 57.5).attr("x2", 57.5)
      .attr("y1", ay[0]).attr("y2", ay[ay.length - 1])
      .attr("stroke", "#333").attr("stroke-width", 1.1);
    row.ages.forEach(function(a, k) {
      g.append("line").attr("x1", 54).attr("x2", 57.5).attr("y1", ay[k]).attr("y2", ay[k])
        .attr("stroke", "#333").attr("stroke-width", 1.1);
      g.append("text").attr("x", 51).attr("y", ay[k]).attr("dy", "0.35em")
        .attr("text-anchor", "end").attr("font-size", 11).attr("fill", "#4d4d4d").text(a);
    });

    // y axis (first column only)
    yMajor.forEach(function(t) {
      g.append("line").attr("x1", firstLeft - 3).attr("x2", firstLeft)
        .attr("y1", y(t)).attr("y2", y(t)).attr("stroke", "#333").attr("stroke-width", 1.1);
      g.append("text").attr("x", firstLeft - 6).attr("y", y(t)).attr("dy", "0.35em")
        .attr("text-anchor", "end").attr("font-size", 11).attr("fill", "#4d4d4d").text(t);
    });

    colNames.forEach(function(name, i) {
      var left = firstLeft + i * colStep;
      var x = d3.scaleLinear().domain(cfg.domains[i]).range([left, left + panelW]);
      var fg = g.append("g");
      var cid = "clip" + (clipCount++);
      defs.append("clipPath").attr("id", cid).append("rect")
        .attr("x", left).attr("y", top).attr("width", panelW).attr("height", rowH);

      fg.append("rect").attr("x", left).attr("y", top)
        .attr("width", panelW).attr("height", rowH).attr("fill", "#fff");

      var xMinor = minorOf(cfg.breaks[i], cfg.domains[i]);
      xMinor.forEach(function(v) {
        fg.append("line").attr("x1", x(v)).attr("x2", x(v)).attr("y1", top).attr("y2", top + rowH)
          .attr("stroke", "#f0f0f0").attr("stroke-width", 0.6);
      });
      yMinor.forEach(function(v) {
        fg.append("line").attr("x1", left).attr("x2", left + panelW).attr("y1", y(v)).attr("y2", y(v))
          .attr("stroke", "#f0f0f0").attr("stroke-width", 0.6);
      });
      cfg.breaks[i].forEach(function(v) {
        if (v < cfg.domains[i][0] || v > cfg.domains[i][1]) return;
        fg.append("line").attr("x1", x(v)).attr("x2", x(v)).attr("y1", top).attr("y2", top + rowH)
          .attr("stroke", "#e3e3e3").attr("stroke-width", 1.1);
      });
      yMajor.forEach(function(v) {
        fg.append("line").attr("x1", left).attr("x2", left + panelW).attr("y1", y(v)).attr("y2", y(v))
          .attr("stroke", "#e3e3e3").attr("stroke-width", 1.1);
      });

      var ref = row.ref[name];
      if (ref !== undefined) {
        fg.append("line").attr("x1", x(ref)).attr("x2", x(ref)).attr("y1", top).attr("y2", top + rowH)
          .attr("stroke", name === "SPEI" ? "#1b3fcc" : "#3a3a3a")
          .attr("stroke-width", name === "SPEI" ? 1.3 : 1)
          .attr("stroke-dasharray", "4,3");
      }

      var series = row.data[name];
      if (series) {
        var dg = fg.append("g").attr("clip-path", "url(#" + cid + ")");
        var line = d3.line()
          .defined(function(d) { return d !== null; })
          .x(function(d) { return x(d[1]); })
          .y(function(d) { return y(d[0]); });
        dg.append("path").datum(series).attr("d", line)
          .attr("fill", "none").attr("stroke", color).attr("stroke-width", 1.1);
        dg.selectAll("circle").data(series.filter(function(d) { return d !== null; }))
          .enter().append("circle")
          .attr("cx", function(d) { return x(d[1]); })
          .attr("cy", function(d) { return y(d[0]); })
          .attr("r", 1.6).attr("fill", color);
      }

      if (name === "SPEI") {
        fg.append("text").attr("x", left + 14.5).attr("y", top + rowH - 8)
          .attr("text-anchor", "middle").attr("font-size", 11).attr("fill", "#000").text("dry");
        fg.append("text").attr("x", left + 38).attr("y", top + rowH - 8)
          .attr("text-anchor", "middle").attr("font-size", 11).attr("fill", "#000").text("wet");
      }

      fg.append("rect").attr("x", left).attr("y", top)
        .attr("width", panelW).attr("height", rowH)
        .attr("fill", "none").attr("stroke", "#333").attr("stroke-width", 1.1);

      // bottom axis on the last row
      if (r === cfg.rows.length - 1) {
        var bottom = top + rowH;
        cfg.breaks[i].forEach(function(v) {
          if (v < cfg.domains[i][0] || v > cfg.domains[i][1]) return;
          g.append("line").attr("x1", x(v)).attr("x2", x(v)).attr("y1", bottom).attr("y2", bottom + 3)
            .attr("stroke", "#333").attr("stroke-width", 1.1);
        });
        cfg.labels[i].forEach(function(lab) {
          g.append("text").attr("x", x(+lab)).attr("y", cfg.tickLabelY)
            .attr("text-anchor", "middle").attr("font-size", 10.5).attr("fill", "#4d4d4d").text(lab);
        });
        if (units[i]) {
          g.append("text").attr("x", left + panelW / 2).attr("y", cfg.unitY)
            .attr("text-anchor", "middle").attr("font-size", 11).attr("fill", "#000").text(units[i]);
        }
      }
    });
  });

  // depth title
  var midRow = cfg.rowTops[1] + rowH / 2;
  g.append("text")
    .attr("transform", "translate(" + cfg.depthX + "," + midRow + ") rotate(-90)")
    .attr("text-anchor", "middle").attr("font-size", 12).attr("fill", "#000").text("Depth (cm)");
}

drawBlock({
  label: "a)", labelY: 23, stripTop: 35,
  rowTops: [57, 189, 321],
  yDomain: [-2.1, 49.6], yTicks: [0, 10, 20, 30, 40],
  domains: domainA, breaks: breaksA, labels: labelsA,
  tickLabelY: 459, unitY: 475, depthX: 77,
  rows: [
    {name: "LBARB1", data: lbarb1, ref: lbarb1Ref, ages: agesA1, ageDepth: ageDepthA1},
    {name: "LCHUC-AB1", data: lchucab1, ref: lchucab1Ref, ages: agesA2, ageDepth: ageDepthA2},
    {name: "LRAB1", data: lrab1, ref: lrab1Ref, ages: agesA3, ageDepth: ageDepthA3}
  ]
});

drawBlock({
  label: "b)", labelY: 478, stripTop: 490,
  rowTops: [512, 644, 776],
  yDomain: [-1.2, 50.3], yTicks: [0, 10, 20, 30, 40, 50],
  domains: domainB, breaks: breaksB, labels: labelsB,
  tickLabelY: 916, unitY: 931, depthX: 81,
  rows: [
    {name: "LASAN1", data: lasan1, ref: lasan1Ref, ages: agesB1, ageDepth: ageDepthB1},
    {name: "LCHUC-AN1", data: lchucan1, ref: lchucan1Ref, ages: agesB2, ageDepth: ageDepthB2},
    {name: "LCOL1", data: lcol1, ref: lcol1Ref, ages: agesB3, ageDepth: ageDepthB3}
  ]
});
</script>
</body>
</html>
